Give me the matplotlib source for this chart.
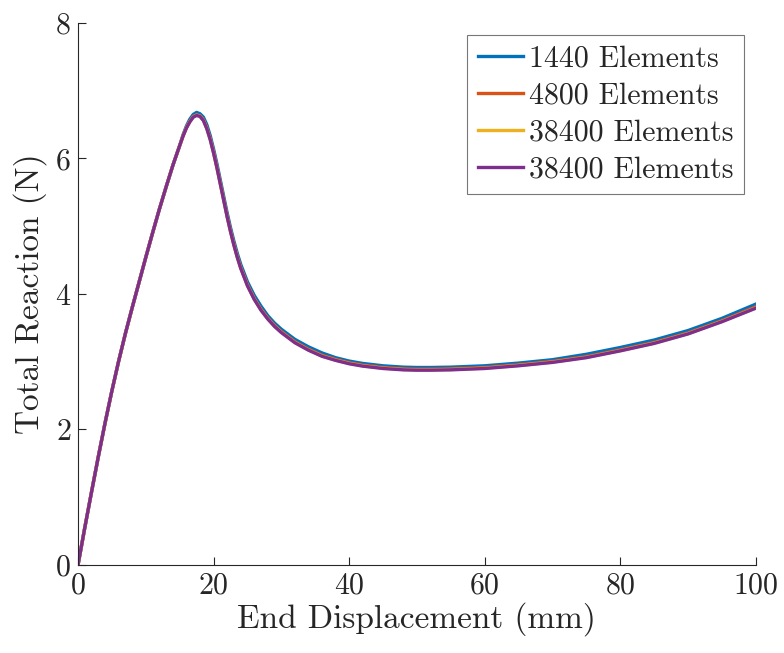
import matplotlib
matplotlib.use("Agg")
import matplotlib.pyplot as plt

plt.rcParams['font.family'] = 'serif'
plt.rcParams['font.serif'] = ['cmr10', 'DejaVu Serif']
plt.rcParams['axes.formatter.use_mathtext'] = True
plt.rcParams['mathtext.fontset'] = 'cm'

displacement = [0, 1, 2, 3, 4, 5, 6, 7, 8, 9, 10, 11, 12, 13, 14, 15,
                15.5, 16, 16.5, 17, 17.5, 18, 18.5, 19, 19.5, 20, 20.5, 21, 21.5,
                22, 22.5, 23, 23.5, 24, 25, 26, 27, 28, 29, 30, 32, 34, 36, 38,
                40, 42, 45, 48, 50, 52, 55, 60, 65, 70, 75, 80, 85, 90, 95, 100]

rising = [0, 0.55, 1.08, 1.60, 2.10, 2.57, 3.01, 3.42, 3.80, 4.17, 4.54, 4.90,
          5.25, 5.58, 5.90, 6.19]

reaction_1440 = rising + [6.35, 6.48, 6.58, 6.65, 6.68, 6.66, 6.61, 6.50, 6.34,
                          6.14, 5.92, 5.68, 5.44, 5.20, 4.98, 4.78, 4.60, 4.44,
                          4.18, 3.98, 3.82, 3.68, 3.57, 3.48, 3.33, 3.22, 3.13,
                          3.06, 3.01, 2.975, 2.94, 2.92, 2.915, 2.915, 2.92, 2.94,
                          2.98, 3.03, 3.11, 3.21, 3.32, 3.46, 3.64, 3.85]
reaction_4800 = rising + [6.335, 6.46, 6.55, 6.62, 6.645, 6.63, 6.57, 6.455, 6.295,
                          6.095, 5.875, 5.635, 5.395, 5.155, 4.935, 4.735, 4.555, 4.395,
                          4.135, 3.935, 3.775, 3.645, 3.535, 3.445, 3.295, 3.185, 3.095,
                          3.035, 2.985, 2.95, 2.915, 2.895, 2.89, 2.89, 2.895, 2.915,
                          2.955, 3.005, 3.075, 3.175, 3.285, 3.425, 3.605, 3.81]
reaction_38400a = rising + [6.33, 6.455, 6.545, 6.615, 6.64, 6.625, 6.565, 6.445, 6.285,
                            6.085, 5.865, 5.625, 5.385, 5.145, 4.925, 4.725, 4.545, 4.385,
                            4.125, 3.925, 3.765, 3.635, 3.525, 3.435, 3.285, 3.175, 3.085,
                            3.025, 2.975, 2.94, 2.905, 2.885, 2.88, 2.88, 2.885, 2.905,
                            2.945, 2.995, 3.065, 3.165, 3.275, 3.415, 3.595, 3.795]
reaction_38400b = rising + [6.33, 6.45, 6.54, 6.61, 6.635, 6.62, 6.56, 6.44, 6.28,
                            6.08, 5.86, 5.62, 5.38, 5.14, 4.92, 4.72, 4.54, 4.38,
                            4.12, 3.92, 3.76, 3.63, 3.52, 3.43, 3.28, 3.17, 3.08,
                            3.02, 2.97, 2.935, 2.90, 2.88, 2.875, 2.875, 2.88, 2.90,
                            2.94, 2.99, 3.06, 3.16, 3.27, 3.41, 3.59, 3.79]

labels = ['1440 Elements', '4800 Elements', '38400 Elements', '38400 Elements']
colors = ['#0072BD', '#D95319', '#EDB120', '#7E2F8E']
series = [reaction_1440, reaction_4800, reaction_38400a, reaction_38400b]

xticks = [0, 20, 40, 60, 80, 100]
yticks = [0, 2, 4, 6, 8]

fig = plt.figure(figsize=(7.84, 6.53), dpi=100)
ax = fig.add_axes([0.0995, 0.1348, 0.8645, 0.830])

for y, c, lab in zip(series, colors, labels):
    ax.plot(displacement, y, color=c, lw=2.4, label=lab)

ax.set_xlim(0, 100)
ax.set_ylim(0, 8)
ax.set_xticks(xticks)
ax.set_yticks(yticks)
ax.spines['top'].set_visible(False)
ax.spines['right'].set_visible(False)
for s in ['left', 'bottom']:
    ax.spines[s].set_color('#262626')
    ax.spines[s].set_linewidth(0.8)
ax.tick_params(direction='in', length=6, width=0.8, color='#262626',
               labelsize=21.5, labelcolor='#262626', pad=5)

ax.set_xlabel('End Displacement (mm)', fontsize=24, color='#262626', labelpad=2)
ax.set_ylabel('Total Reaction (N)', fontsize=24, color='#262626', labelpad=6)

leg = ax.legend(loc='upper right', bbox_to_anchor=(0.982, 0.978), fontsize=21.5,
                frameon=True, fancybox=False, edgecolor='#555555',
                handlelength=1.5, handletextpad=0.2, labelspacing=0.32,
                borderpad=0.35, borderaxespad=0)
leg.get_frame().set_linewidth(0.8)
for t in leg.get_texts():
    t.set_color('#262626')

fig.savefig('out.png', dpi=100, facecolor='white')
